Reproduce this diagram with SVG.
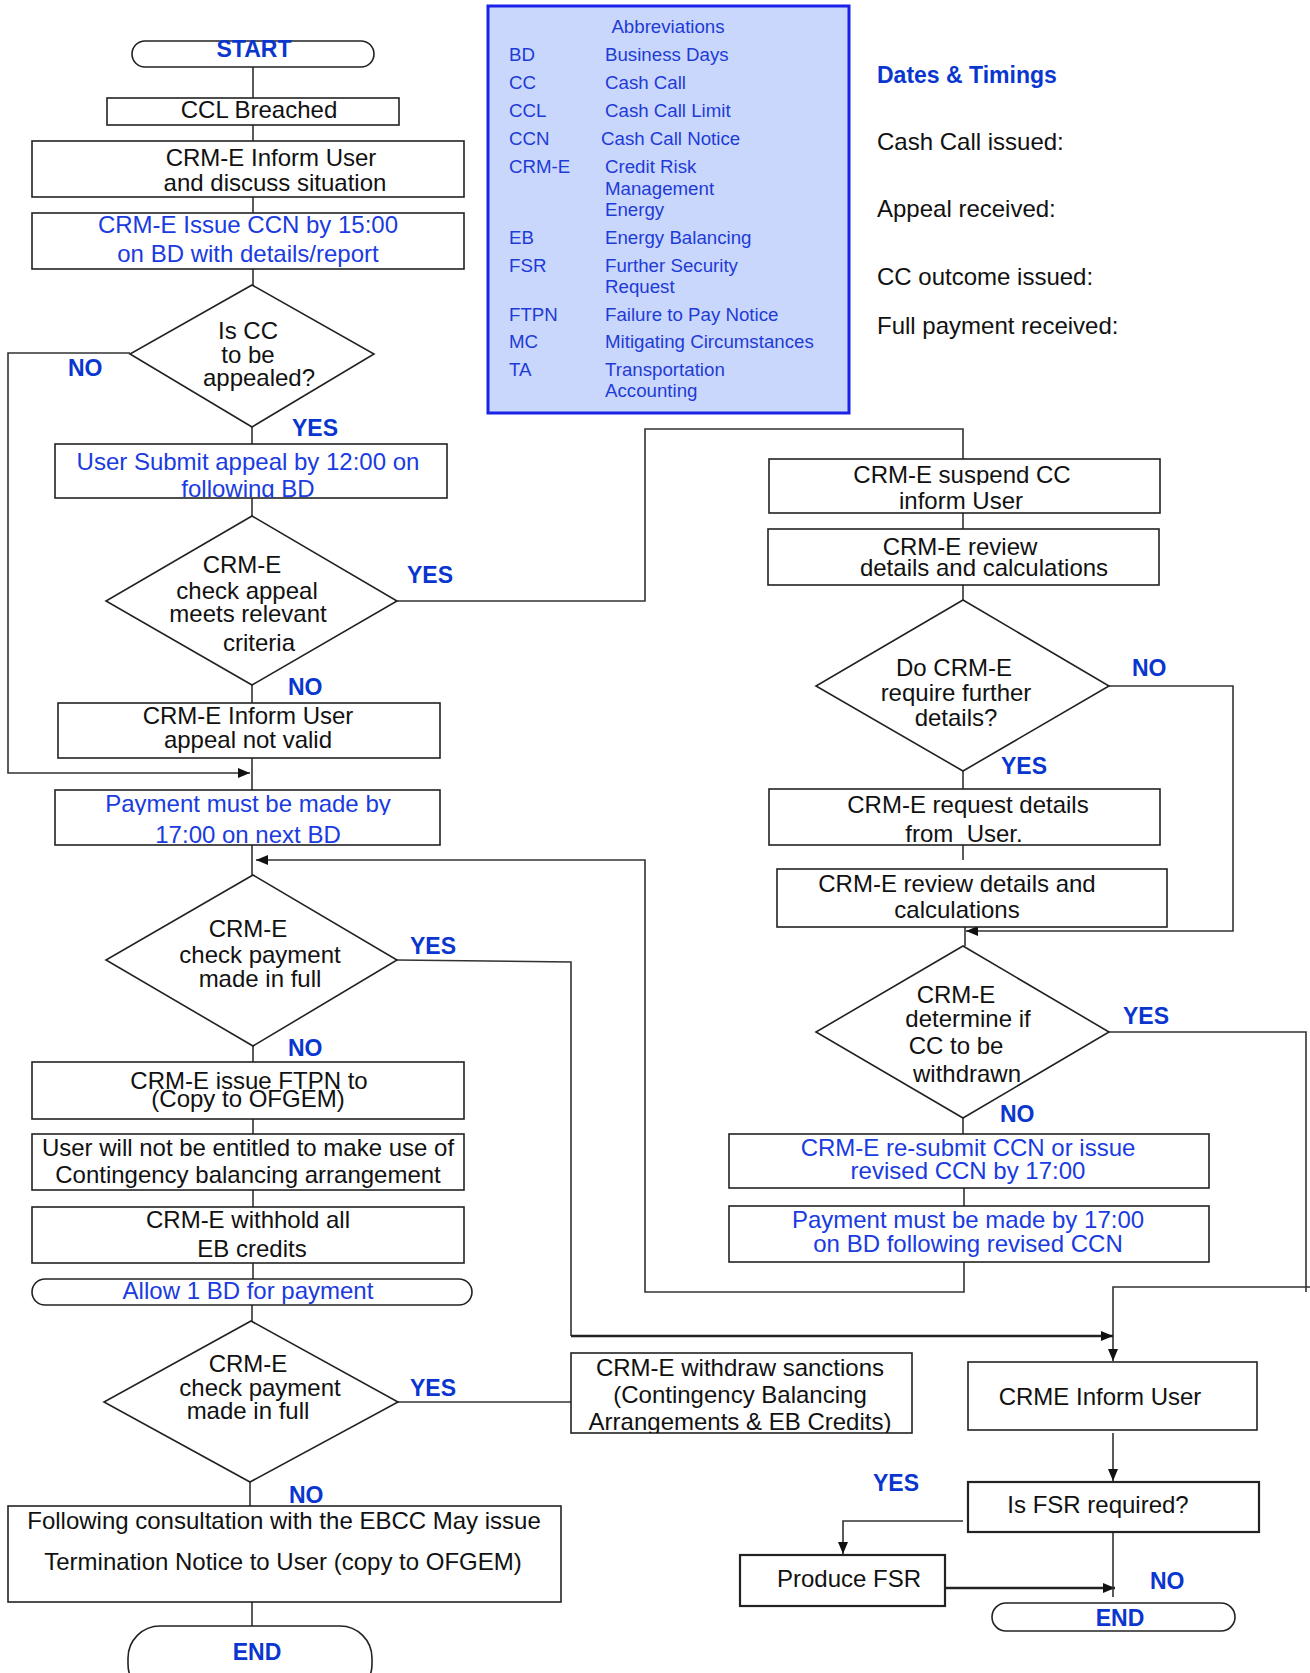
<svg xmlns="http://www.w3.org/2000/svg" width="1310" height="1673" viewBox="0 0 1310 1673">
<defs>
<style>
.bx{fill:#fff;stroke:#222;stroke-width:1.6}
.bx2{fill:#fff;stroke:#222;stroke-width:2.2}
.t{font-family:"Liberation Sans",Arial,sans-serif;font-size:24px;fill:#111;text-anchor:middle}
.b{fill:#1a3be0}
.lb{font-family:"Liberation Sans",Arial,sans-serif;font-weight:bold;font-size:23px;fill:#0a36d0}
.ab{font-family:"Liberation Sans",Arial,sans-serif;font-size:18.7px;fill:#1f3bd6}
.dt{font-family:"Liberation Sans",Arial,sans-serif;font-size:24px;fill:#111}
.ln{fill:none;stroke:#333;stroke-width:1.6}
.lnb{fill:none;stroke:#222;stroke-width:2.6}
</style>
<marker id="ah" viewBox="0 0 12 10" refX="12" refY="5" markerWidth="12" markerHeight="10" markerUnits="userSpaceOnUse" orient="auto"><path d="M0,0 L12,5 L0,10 z" fill="#111"/></marker>
<clipPath id="cUser"><rect x="55" y="444" width="392" height="54"/></clipPath>
<clipPath id="cPay1"><rect x="55" y="790" width="385" height="25"/></clipPath>
<clipPath id="cPay2"><rect x="55" y="790" width="385" height="55"/></clipPath>
<clipPath id="cSusp"><rect x="769" y="459" width="391" height="26"/></clipPath>
<clipPath id="cFtpn"><rect x="32" y="1062" width="432" height="28"/></clipPath>
<clipPath id="cWd"><rect x="571" y="1353" width="341" height="80"/></clipPath>
</defs>

<g id="connectors">
<path class="ln" d="M253,67 V98 M253,125 V141 M253,197 V213 M253,269 V285 M252,427 V444 M252,498 V516 M252,685 V703 M252,758 V790 M252,845 V875 M253,1046 V1062 M253,1119 V1134 M253,1190 V1207 M253,1263 V1279 M252,1305 V1321 M250,1482 V1506 M252,1602 V1626"/>
<path class="ln" d="M130,353 H8 V773 H250" marker-end="url(#ah)"/>
<path class="ln" d="M397,601 H645 V429 H963 V459"/>
<path class="ln" d="M963,513 V529 M963,585 V600 M963,771 V789 M963,845 V860 M965,917 V946 M963,1118 V1134 M964,1188 V1206"/>
<path class="ln" d="M964,1262 V1292 H645 V860 H256" marker-end="url(#ah)"/>
<path class="ln" d="M1109,686 H1233 V931 H966" marker-end="url(#ah)"/>
<path class="ln" d="M1109,1032 H1306 V1292"/>
<path class="ln" d="M1310,1287 H1113 V1361" marker-end="url(#ah)"/>
<path class="ln" d="M397,960 L571,962 V1336"/>
<path class="lnb" d="M571,1336 H1113" marker-end="url(#ah)"/>
<path class="ln" d="M398,1402 H571"/>
<path class="ln" d="M1113,1433 V1481" marker-end="url(#ah)"/>
<path class="ln" d="M963,1521 H843 V1554" marker-end="url(#ah)"/>
<path class="lnb" d="M945,1588 H1115" marker-end="url(#ah)"/>
<path class="ln" d="M1113,1530 V1597"/>
</g>

<g id="start">
<rect class="bx" x="132" y="41" width="242" height="26" rx="13"/>
<text class="lb" x="254" y="57" text-anchor="middle" font-size="21">START</text>
</g>
<g id="ccl-breached">
<rect class="bx" x="107" y="98" width="292" height="27"/>
<text class="t" x="259" y="118">CCL Breached</text>
</g>
<g id="inform-user">
<rect class="bx" x="32" y="141" width="432" height="56"/>
<text class="t" x="271" y="166">CRM-E Inform User</text>
<text class="t" x="275" y="191">and discuss situation</text>
</g>
<g id="issue-ccn">
<rect class="bx" x="32" y="213" width="432" height="56"/>
<text class="t b" x="248" y="233">CRM-E Issue CCN by 15:00</text>
<text class="t b" x="248" y="262">on BD with details/report</text>
</g>
<g id="d-appeal">
<polygon class="bx" points="252,285 374,354 252,427 130,354"/>
<text class="t" x="248" y="339">Is CC</text>
<text class="t" x="248" y="363">to be</text>
<text class="t" x="259" y="386">appealed?</text>
</g>
<g id="submit-appeal">
<rect class="bx" x="55" y="444" width="392" height="54"/>
<text class="t b" x="248" y="470">User Submit appeal by 12:00 on</text>
<text class="t b" x="248" y="497" clip-path="url(#cUser)">following BD</text>
</g>
<g id="d-check-appeal">
<polygon class="bx" points="252,516 397,601 252,685 106,601"/>
<text class="t" x="242" y="573">CRM-E</text>
<text class="t" x="247" y="599">check appeal</text>
<text class="t" x="248" y="622">meets relevant</text>
<text class="t" x="259" y="651">criteria</text>
</g>
<g id="appeal-not-valid">
<rect class="bx" x="58" y="703" width="382" height="55"/>
<text class="t" x="248" y="724">CRM-E Inform User</text>
<text class="t" x="248" y="748">appeal not valid</text>
</g>
<g id="payment-next-bd">
<rect class="bx" x="55" y="790" width="385" height="55"/>
<text class="t b" x="248" y="812" clip-path="url(#cPay1)">Payment must be made by</text>
<text class="t b" x="248" y="843" clip-path="url(#cPay2)">17:00 on next BD</text>
</g>
<g id="d-payment-1">
<polygon class="bx" points="253,875 397,960 253,1046 106,960"/>
<text class="t" x="248" y="937">CRM-E</text>
<text class="t" x="260" y="963">check payment</text>
<text class="t" x="260" y="987">made in full</text>
</g>
<g id="issue-ftpn">
<rect class="bx" x="32" y="1062" width="432" height="57"/>
<text class="t" x="249" y="1089" clip-path="url(#cFtpn)">CRM-E issue FTPN to</text>
<text class="t" x="248" y="1107">(Copy to OFGEM)</text>
</g>
<g id="no-contingency">
<rect class="bx" x="32" y="1134" width="432" height="56"/>
<text class="t" x="248" y="1156">User will not be entitled to make use of</text>
<text class="t" x="248" y="1183">Contingency balancing arrangement</text>
</g>
<g id="withhold-eb">
<rect class="bx" x="32" y="1207" width="432" height="56"/>
<text class="t" x="248" y="1228">CRM-E withhold all</text>
<text class="t" x="252" y="1257">EB credits</text>
</g>
<g id="allow-1bd">
<rect class="bx" x="32" y="1279" width="440" height="26" rx="13"/>
<text class="t b" x="248" y="1299">Allow 1 BD for payment</text>
</g>
<g id="d-payment-2">
<polygon class="bx" points="251,1321 398,1402 250,1482 104,1402"/>
<text class="t" x="248" y="1372">CRM-E</text>
<text class="t" x="260" y="1396">check payment</text>
<text class="t" x="248" y="1419">made in full</text>
</g>
<g id="termination">
<rect class="bx" x="8" y="1506" width="553" height="96"/>
<text class="t" x="284" y="1529">Following consultation with the EBCC May issue</text>
<text class="t" x="283" y="1570">Termination Notice to User (copy to OFGEM)</text>
</g>
<g id="end-left">
<rect class="bx" x="128" y="1626" width="244" height="70" rx="32"/>
<text class="lb" x="257" y="1660" text-anchor="middle">END</text>
</g>

<g id="abbreviations">
<rect x="488" y="6" width="361" height="407" fill="#c9d7fc" stroke="#1a22e8" stroke-width="3"/>
<text class="ab" x="668" y="33" text-anchor="middle">Abbreviations</text>
<text class="ab" x="509" y="61">BD</text><text class="ab" x="605" y="61">Business Days</text>
<text class="ab" x="509" y="89">CC</text><text class="ab" x="605" y="89">Cash Call</text>
<text class="ab" x="509" y="117">CCL</text><text class="ab" x="605" y="117">Cash Call Limit</text>
<text class="ab" x="509" y="145">CCN</text><text class="ab" x="601" y="145">Cash Call Notice</text>
<text class="ab" x="509" y="173">CRM-E</text><text class="ab" x="605" y="173">Credit Risk</text>
<text class="ab" x="605" y="195">Management</text>
<text class="ab" x="605" y="216">Energy</text>
<text class="ab" x="509" y="244">EB</text><text class="ab" x="605" y="244">Energy Balancing</text>
<text class="ab" x="509" y="272">FSR</text><text class="ab" x="605" y="272">Further Security</text>
<text class="ab" x="605" y="293">Request</text>
<text class="ab" x="509" y="321">FTPN</text><text class="ab" x="605" y="321">Failure to Pay Notice</text>
<text class="ab" x="509" y="348">MC</text><text class="ab" x="605" y="348">Mitigating Circumstances</text>
<text class="ab" x="509" y="376">TA</text><text class="ab" x="605" y="376">Transportation</text>
<text class="ab" x="605" y="397">Accounting</text>
</g>

<g id="dates-timings">
<text class="lb" x="877" y="83" font-size="25">Dates &amp; Timings</text>
<text class="dt" x="877" y="150">Cash Call issued:</text>
<text class="dt" x="877" y="217">Appeal received:</text>
<text class="dt" x="877" y="285">CC outcome issued:</text>
<text class="dt" x="877" y="334">Full payment received:</text>
</g>

<g id="suspend-cc">
<rect class="bx" x="769" y="459" width="391" height="54"/>
<text class="t" x="962" y="483" clip-path="url(#cSusp)">CRM-E suspend CC</text>
<text class="t" x="961" y="509">inform User</text>
</g>
<g id="review-1">
<rect class="bx" x="768" y="529" width="391" height="56"/>
<text class="t" x="960" y="555">CRM-E review</text>
<text class="t" x="984" y="576">details and calculations</text>
</g>
<g id="d-further-details">
<polygon class="bx" points="963,600 1109,686 963,771 816,686"/>
<text class="t" x="954" y="676">Do CRM-E</text>
<text class="t" x="956" y="701">require further</text>
<text class="t" x="956" y="726">details?</text>
</g>
<g id="request-details">
<rect class="bx" x="769" y="789" width="391" height="56"/>
<text class="t" x="968" y="813">CRM-E request details</text>
<text class="t" x="964" y="842">from&#160; User.</text>
</g>
<g id="review-2">
<rect class="bx" x="777" y="869" width="390" height="58"/>
<text class="t" x="957" y="892">CRM-E review details and</text>
<text class="t" x="957" y="918">calculations</text>
</g>
<g id="d-withdrawn">
<polygon class="bx" points="963,946 1109,1032 963,1118 816,1032"/>
<text class="t" x="956" y="1003">CRM-E</text>
<text class="t" x="968" y="1027">determine if</text>
<text class="t" x="956" y="1054">CC to be</text>
<text class="t" x="967" y="1082">withdrawn</text>
</g>
<g id="resubmit-ccn">
<rect class="bx" x="729" y="1134" width="480" height="54"/>
<text class="t b" x="968" y="1156">CRM-E re-submit CCN or issue</text>
<text class="t b" x="968" y="1179">revised CCN by 17:00</text>
</g>
<g id="payment-revised">
<rect class="bx" x="729" y="1206" width="480" height="56"/>
<text class="t b" x="968" y="1228">Payment must be made by 17:00</text>
<text class="t b" x="968" y="1252">on BD following revised CCN</text>
</g>
<g id="withdraw-sanctions">
<rect class="bx" x="571" y="1353" width="341" height="80"/>
<text class="t" x="740" y="1376">CRM-E withdraw sanctions</text>
<text class="t" x="740" y="1403">(Contingency Balancing</text>
<text class="t" x="740" y="1430" clip-path="url(#cWd)">Arrangements &amp; EB Credits)</text>
</g>
<g id="crme-inform-user">
<rect class="bx" x="968" y="1362" width="289" height="68"/>
<text class="t" x="1100" y="1405">CRME Inform User</text>
</g>
<g id="is-fsr-required">
<rect class="bx2" x="968" y="1482" width="291" height="50"/>
<text class="t" x="1098" y="1513">Is FSR required?</text>
</g>
<g id="produce-fsr">
<rect class="bx2" x="740" y="1555" width="205" height="51"/>
<text class="t" x="849" y="1587">Produce FSR</text>
</g>
<g id="end-right">
<rect class="bx" x="992" y="1603" width="243" height="28" rx="14"/>
<text class="lb" x="1120" y="1626" text-anchor="middle">END</text>
</g>

<g id="labels">
<text class="lb" x="68" y="376" font-size="22">NO</text>
<text class="lb" x="292" y="436">YES</text>
<text class="lb" x="407" y="583" font-size="25">YES</text>
<text class="lb" x="288" y="695" font-size="25">NO</text>
<text class="lb" x="410" y="954">YES</text>
<text class="lb" x="288" y="1056">NO</text>
<text class="lb" x="410" y="1396">YES</text>
<text class="lb" x="289" y="1503">NO</text>
<text class="lb" x="1132" y="676">NO</text>
<text class="lb" x="1001" y="774">YES</text>
<text class="lb" x="1123" y="1024">YES</text>
<text class="lb" x="1000" y="1122">NO</text>
<text class="lb" x="873" y="1491">YES</text>
<text class="lb" x="1150" y="1589">NO</text>
</g>
</svg>
